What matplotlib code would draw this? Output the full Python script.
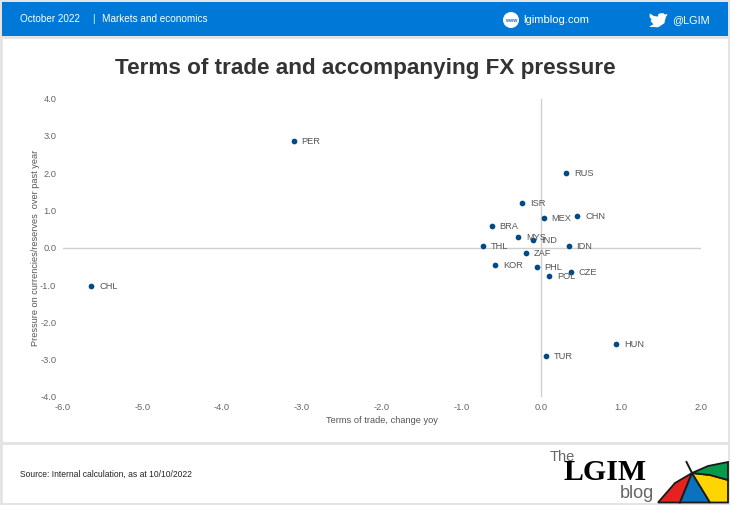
import matplotlib
matplotlib.use("Agg")
import matplotlib.pyplot as plt
from matplotlib.patches import Rectangle, Circle, Polygon

plt.rcParams['font.family'] = ['Liberation Sans', 'DejaVu Sans']

labels = ["PER","RUS","ISR","MEX","CHN","BRA","MYS","IND","THL","IDN","ZAF","KOR","PHL","CZE","POL","HUN","TUR","CHL"]
tot = [-3.10,0.31,-0.24,0.03,0.45,-0.62,-0.29,-0.10,-0.73,0.34,-0.19,-0.58,-0.06,0.37,0.10,0.94,0.06,-5.64]
pressure = [2.85,2.01,1.19,0.79,0.86,0.59,0.29,0.20,0.06,0.06,-0.14,-0.45,-0.51,-0.65,-0.75,-2.58,-2.90,-1.02]
xticks = [-6,-5,-4,-3,-2,-1,0,1,2]
yticks = [-4,-3,-2,-1,0,1,2,3,4]

W, H = 730, 505
fig = plt.figure(figsize=(W/100, H/100), dpi=100, facecolor='#E4E4E4')

bg = fig.add_axes([0,0,1,1])
bg.set_xlim(0,W); bg.set_ylim(H,0); bg.axis('off')
bg.add_patch(Rectangle((2,2),726,34,fc='#0078D7',ec='none'))
bg.add_patch(Rectangle((3,39),725,403,fc='white',ec='none'))
bg.add_patch(Rectangle((3,445),725,57.5,fc='white',ec='none'))

hc = 'white'
bg.text(20,19,"October 2022",color=hc,fontsize=7.1,va='center')
bg.text(93,19,"|",color=hc,fontsize=7.1,va='center',ha='center')
bg.text(102,19,"Markets and economics",color=hc,fontsize=7.2,va='center')
bg.add_patch(Circle((511,20),8,fc='white',ec='none'))
bg.text(511,20,"www",color='#0078D7',fontsize=3.8,va='center',ha='center',fontweight='bold')
bg.text(523,20,"lgimblog.com",color=hc,fontsize=8.1,va='center')
bird = [(650,14),(654,16.5),(658,17),(659,14),(663,13.5),(665,15),(667,14.5),(665.5,17),(664,23),(658,27),(650,26.5),(654,24.5),(651,21),(652,19.5),(650,17)]
bg.add_patch(Polygon(bird,closed=True,fc='white',ec='white',lw=0.5,joinstyle='round'))
bg.text(672,20,"@LGIM",color=hc,fontsize=7.8,va='center')

bg.text(365,68.5,"Terms of trade and accompanying FX pressure",color='#333333',
        fontsize=16.2,fontweight='bold',ha='center',va='center')

bg.text(20.5,474.5,"Source: Internal calculation, as at 10/10/2022",color='#222222',fontsize=6.15,va='center')

# logo
ec = '#1a1a1a'
apex = (692,473)
bg.add_patch(Polygon([apex,(675,483),(658,502.5),(680,502.5)],fc='#E3231F',ec=ec,lw=1.3))
bg.add_patch(Polygon([apex,(680,502.5),(710,502.5)],fc='#0B72BD',ec=ec,lw=1.3))
bg.add_patch(Polygon([apex,(710,502.5),(728,502.5),(728,480),(710,475)],fc='#FFD500',ec=ec,lw=1.3))
bg.add_patch(Polygon([apex,(708,466),(728,462),(728,480),(710,475)],fc='#079A4B',ec=ec,lw=1.3))
bg.plot([686.5,692],[462,473],color=ec,lw=1.4)
bg.text(550,457,"The",color='#666666',fontsize=10.5,va='center',fontweight='light')
bg.text(563,473,"LGIM",color='black',fontsize=21.5,fontweight='bold',family='Liberation Serif',va='center')
bg.text(620,494,"blog",color='#666666',fontsize=13,va='center')

ax = fig.add_axes([62.5/W, 1-397/H, (701-62.5)/W, (397-98.5)/H])
ax.set_xlim(-6,2); ax.set_ylim(-4,4)
ax.patch.set_alpha(0)
for s in ax.spines.values():
    s.set_visible(False)
ax.axhline(0,color='#D0D0D0',lw=1,zorder=1)
ax.axvline(0,color='#D0D0D0',lw=1,zorder=1)
ax.scatter(tot,pressure,s=17,color='#004B87',zorder=3,linewidths=0)
for l,x,y in zip(labels,tot,pressure):
    ax.annotate(l,(x,y),xytext=(5.6,-0.4),textcoords='offset points',fontsize=6.7,
                color='#555555',va='center',ha='left',zorder=4)
ax.set_xticks(xticks); ax.set_yticks(yticks)
ax.set_xticklabels([f"{v:.1f}" for v in xticks])
ax.set_yticklabels([f"{v:.1f}" for v in yticks])
ax.tick_params(length=0,labelsize=6.7,labelcolor='#666666')
ax.tick_params(axis='x',pad=4)
ax.tick_params(axis='y',pad=4.5)
ax.set_xlabel("Terms of trade, change yoy",fontsize=6.7,color='#555555',labelpad=3.5)
ax.set_ylabel("Pressure on currencies/reserves  over past year",fontsize=6.6,color='#555555',labelpad=0)

fig.savefig("out.png",dpi=100,facecolor=fig.get_facecolor())
